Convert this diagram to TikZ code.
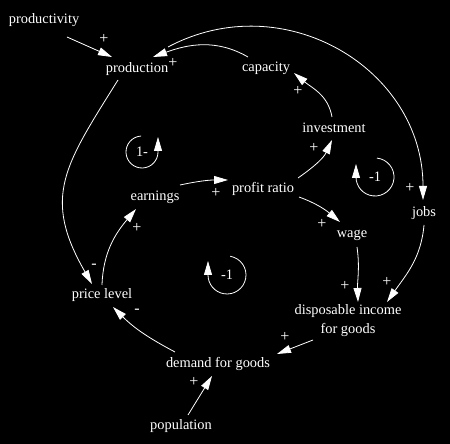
\documentclass[tikz,border=0pt]{standalone}
\usepackage{fontspec}
\setmainfont{Liberation Serif}
\usetikzlibrary{arrows.meta}
\begin{document}
\begin{tikzpicture}[x=1pt,y=1pt,
  lbl/.style={text=white, inner sep=0pt, align=center, font=\rmfamily\fontsize{14.4}{19}\selectfont},
  sgn/.style={text=white, inner sep=0pt, font=\rmfamily\fontsize{16}{16}\selectfont},
  link/.style={draw=white, line width=0.8pt, -{Triangle[length=14pt,width=8pt]}},
]
\fill[black] (0,0) rectangle (450,444);
\useasboundingbox (0,0) rectangle (450,444);
% variables
\node[lbl] (productivity) at (44,424) {productivity};
\node[lbl] (production) at (137,375) {production};
\node[lbl] (capacity) at (266,376) {capacity};
\node[lbl] (investment) at (334,316) {investment};
\node[lbl] (profit) at (263,255) {profit ratio};
\node[lbl] (earnings) at (155,247) {earnings};
\node[lbl] (jobs) at (424,231) {jobs};
\node[lbl] (wage) at (352,209) {wage};
\node[lbl] (disposable) at (348,123) {disposable income\\for goods};
\node[lbl] (demand) at (218,80) {demand for goods};
\node[lbl] (price) at (102,149) {price level};
\node[lbl] (population) at (181,18) {population};
% loop labels
\node[lbl] (loopL) at (142,292) {1-};
\node[lbl] (loopR) at (375,267) {-1};
\node[lbl] (loopB) at (227,169) {-1};
% links
\draw[link] ([shift={(23,-17)}]productivity.center) -- ([shift={(-25,12)}]production.center);
\draw[link] ([shift={(-18,11)}]capacity.center) to[out=150,in=20] ([shift={(16,12)}]production.center);
\draw[link] ([shift={(31,22)}]production.center) to[out=28,in=90,looseness=1.13] ([shift={(-1,13)}]jobs.center);
\draw[link] ([shift={(-2,11)}]investment.center) to[out=100,in=-40] ([shift={(28,-5)}]capacity.center);
\draw[link] ([shift={(35,11)}]profit.center) to[out=35,in=-115] ([shift={(-2,-12)}]investment.center);
\draw[link] ([shift={(25,12)}]earnings.center) to[out=12,in=180] ([shift={(-35,9)}]profit.center);
\draw[link] ([shift={(36,-8)}]profit.center) to[out=-20,in=140] ([shift={(-12,13)}]wage.center);
\draw[link] ([shift={(-19,-11)}]production.center) to[out=-122,in=120,looseness=1.25] ([shift={(-10,11)}]price.center);
\draw[link] ([shift={(0,10)}]price.center) to[out=88,in=-130] ([shift={(-19,-12)}]earnings.center);
\draw[link] ([shift={(-43,12)}]demand.center) to[out=152,in=-45] ([shift={(11,-12)}]price.center);
\draw[link] ([shift={(7,11)}]population.center) -- ([shift={(-6,-12)}]demand.center);
\draw[link] ([shift={(-35,-19)}]disposable.center) -- ([shift={(59,10)}]demand.center);
\draw[link] ([shift={(5,-12)}]wage.center) to[out=-82,in=92] ([shift={(10,19)}]disposable.center);
\draw[link] ([shift={(0,-12)}]jobs.center) to[out=-95,in=55] ([shift={(39,19)}]disposable.center);
% loops
\draw[link] ([shift={(93:16)}]loopL.center) arc[start angle=93, end angle=360, radius=16] -- ++(0,15);
\draw[link] ([shift={(84:19)}]loopR.center) arc[start angle=84, end angle=-180, radius=19] -- ++(0,13);
\draw[link] ([shift={(80:19)}]loopB.center) arc[start angle=80, end angle=-180, radius=19] -- ++(0,14);
% polarities
\node[sgn] (s1) at (104,405) {+};
\node[sgn] (s2) at (173,381) {+};
\node[sgn] (s3) at (298,353) {+};
\node[sgn] (s4) at (314,296) {+};
\node[sgn] (s5) at (216,251) {+};
\node[sgn] (s6) at (410,256) {+};
\node[sgn] (s7) at (137,216) {+};
\node[sgn] (s8) at (322,220) {+};
\node[sgn] (s9) at (345,158) {+};
\node[sgn] (s10) at (387,162) {+};
\node[sgn] (s11) at (285,107) {+};
\node[sgn] (s12) at (94,178) {-};
\node[sgn] (s13) at (137,133) {-};
\node[sgn] (s14) at (194,62) {+};
\end{tikzpicture}
\end{document}
